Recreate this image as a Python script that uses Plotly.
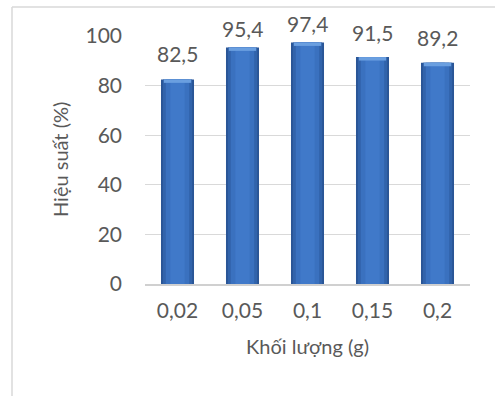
import plotly.graph_objects as go

categories = ["0,02", "0,05", "0,1", "0,15", "0,2"]
values = [82.5, 95.4, 97.4, 91.5, 89.2]
labels = ["82,5", "95,4", "97,4", "91,5", "89,2"]
y_ticks = [0, 20, 40, 60, 80, 100]

# label offsets above bar tops in px (tall bars' labels are pushed down to fit)
label_shift = [11, 4, 4, 10, 11]

FONT = "Lato, 'Open Sans', sans-serif"
TXT = "#595959"

fig = go.Figure()
# layered bars to mimic the shaded 3D-like fill
for w, c in [(0.508, "#2a5596"), (0.45, "#3163ab"), (0.36, "#3a71bf"), (0.22, "#4079c9")]:
    fig.add_trace(go.Bar(x=categories, y=values, width=w, marker=dict(color=c, line=dict(width=0)),
                         hoverinfo="skip", showlegend=False))
# light bevel at the top of each bar
bevel = 1.4
fig.add_trace(go.Bar(x=categories, y=[bevel] * len(values), base=[v - bevel for v in values],
                     width=0.42, marker=dict(color="#6a9fe0", line=dict(width=0)),
                     hoverinfo="skip", showlegend=False))

for c, v, t, s in zip(categories, values, labels, label_shift):
    fig.add_annotation(x=c, y=v, text=t, showarrow=False, yanchor="bottom", yshift=s,
                       font=dict(family=FONT, size=21, color=TXT))

fig.add_annotation(x=(60 - 145) / 325, y=0.5, xref="paper", yref="paper", text="Hiệu suất (%)",
                   textangle=-90, showarrow=False, xanchor="center", yanchor="middle",
                   font=dict(family=FONT, size=20, color=TXT))

fig.update_layout(
    width=495, height=396,
    margin=dict(l=145, r=25, t=36, b=112),
    paper_bgcolor="white", plot_bgcolor="white",
    barmode="overlay",
    font=dict(family=FONT, color=TXT),
    xaxis=dict(
        type="category", showgrid=False, showline=True, linecolor="#d0d0d0", linewidth=1.5,
        ticks="", tickfont=dict(size=21, color=TXT), ticklabelstandoff=7,
        title=dict(text="Khối lượng (g)", font=dict(size=20, color=TXT), standoff=19),
    ),
    yaxis=dict(
        range=[0, 100], tickvals=y_ticks, showgrid=True, gridcolor="#d9d9d9", gridwidth=1,
        zeroline=False, showline=False, ticks="", tickfont=dict(size=21, color=TXT),
        ticklabelstandoff=22,
    ),
    shapes=[
        dict(type="line", xref="paper", yref="paper", x0=(12 - 145) / 325, x1=(495 - 145) / 325,
             y0=(284 - 7) / 248, y1=(284 - 7) / 248, line=dict(color="#d9d9d9", width=1.5)),
        dict(type="line", xref="paper", yref="paper", x0=(12 - 145) / 325, x1=(12 - 145) / 325,
             y0=(284 - 7) / 248, y1=(284 - 400) / 248, line=dict(color="#d9d9d9", width=1.5)),
    ],
)

fig.write_html("out.html")
